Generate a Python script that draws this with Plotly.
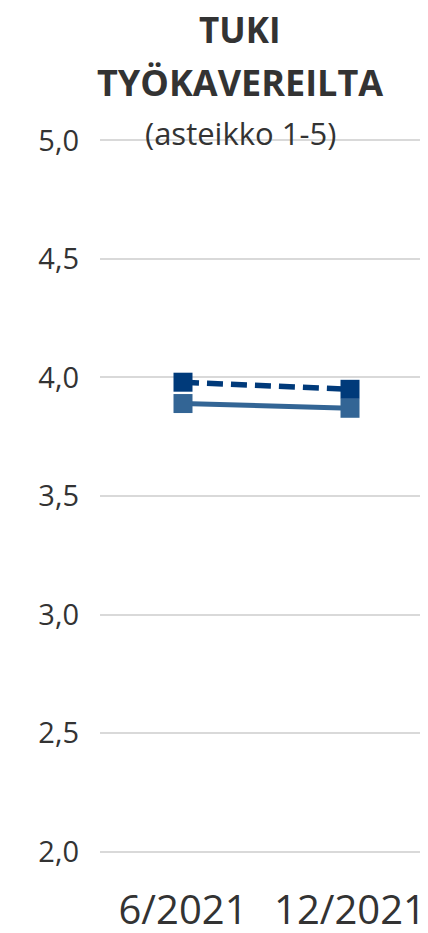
import plotly.graph_objects as go

categories = ["6/2021", "12/2021"]
series_dashed = [3.98, 3.95]
series_solid = [3.89, 3.87]
y_ticks = [2.0, 2.5, 3.0, 3.5, 4.0, 4.5, 5.0]
y_tick_labels = ["2,0", "2,5", "3,0", "3,5", "4,0", "4,5", "5,0"]

# page body has an 8px margin, so the figure is placed at (8, 8) in the window
OFF = 8
W, H = 428 - OFF, 933 - OFF
Y_LO, Y_HI = 1.99, 5.01
grid_top, grid_bot = 140 - OFF, 852 - OFF          # px of 5.0 and 2.0 in figure coords
px_per_unit = (grid_bot - grid_top) / 3.0
T = grid_top - (Y_HI - 5.0) * px_per_unit
B = H - (grid_bot + (2.0 - Y_LO) * px_per_unit)
L, R = 100 - OFF, 0
FONT = "Open Sans"
TXT = "#333333"

fig = go.Figure()
fig.add_trace(go.Scatter(
    x=categories, y=series_solid, mode="lines+markers",
    line=dict(color="#336595", width=5),
    marker=dict(symbol="square", size=19, color="#336595"),
    showlegend=False,
))
fig.add_trace(go.Scatter(
    x=categories, y=series_dashed, mode="lines+markers",
    line=dict(color="#003A7A", width=5.5, dash="16px,8px"),
    marker=dict(symbol="square", size=19, color="#003A7A"),
    showlegend=False,
))

plot_h = H - T - B
def py(ypx):
    return 1 + (T - (ypx - OFF)) / plot_h

cx = (240 - OFF - L) / (W - L - R)
fig.add_annotation(text="<b>TUKI</b>", xref="paper", yref="paper", x=cx, y=py(29),
                   xanchor="center", yanchor="middle", showarrow=False, borderpad=0,
                   font=dict(family=FONT, size=35, color=TXT))
fig.add_annotation(text="<b>TYÖKAVEREILTA</b>", xref="paper", yref="paper", x=cx, y=py(82),
                   xanchor="center", yanchor="middle", showarrow=False, borderpad=0,
                   font=dict(family=FONT, size=36, color=TXT))
fig.add_annotation(text="(asteikko 1-5)", xref="paper", yref="paper", x=cx, y=py(133),
                   xanchor="center", yanchor="middle", showarrow=False, borderpad=0,
                   font=dict(family=FONT, size=31, color=TXT))

fig.update_layout(
    width=W, height=H,
    margin=dict(l=L, r=R, t=T, b=B, autoexpand=False),
    paper_bgcolor="white", plot_bgcolor="white",
    font=dict(family=FONT, color=TXT),
)
fig.update_xaxes(
    type="category", range=[-0.497, 1.467], automargin=False,
    showgrid=False, showline=False, zeroline=False, ticks="",
    tickfont=dict(family=FONT, size=40, color=TXT),
    ticklabelstandoff=29,
)
fig.update_yaxes(
    range=[Y_LO, Y_HI], tickvals=y_ticks, ticktext=y_tick_labels, automargin=False,
    showgrid=True, gridcolor="#D9D9D9", gridwidth=2,
    zeroline=False, showline=False, ticks="",
    tickfont=dict(family=FONT, size=29, color=TXT),
    ticklabelstandoff=20,
)

fig.write_html("out.html")
